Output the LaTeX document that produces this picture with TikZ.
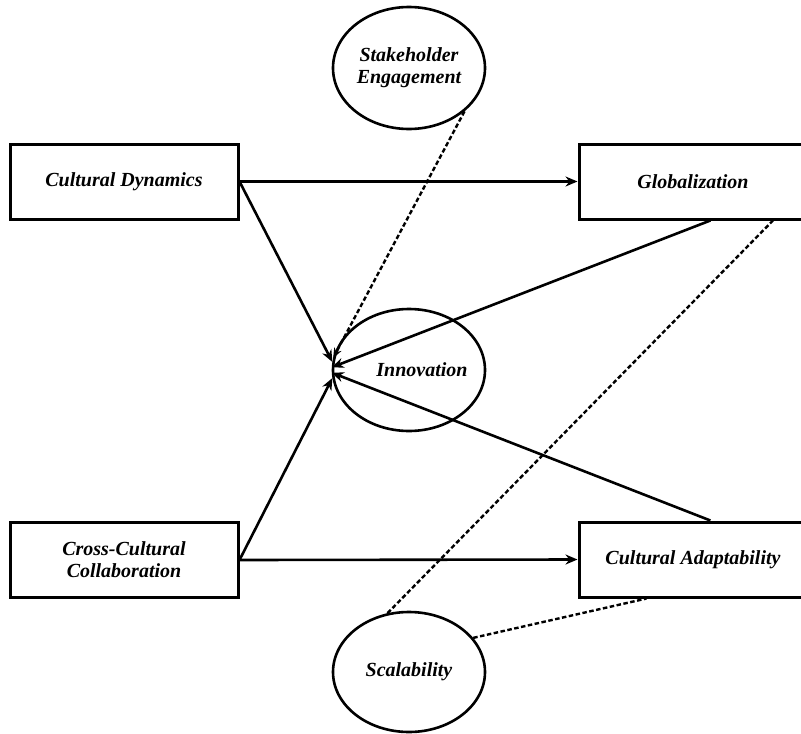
\documentclass[tikz,border=0pt]{standalone}
\usepackage{fontspec}
\setmainfont{Liberation Serif}
\usetikzlibrary{shapes.geometric,arrows.meta}

\begin{document}
\begin{tikzpicture}[x=1pt,y=1pt,
  every node/.style={font=\fontsize{20}{22}\selectfont\bfseries\itshape, inner sep=0pt},
  box/.style={draw, line width=3pt, minimum width=228pt, minimum height=75pt},
  bubble/.style={draw, ellipse, line width=2.6pt, minimum width=152pt, minimum height=122pt},
  link/.style={line width=2.6pt, -{Stealth[length=12pt,width=10pt]}},
  dashlink/.style={line width=2.4pt, dash pattern=on 4.5pt off 2.5pt}
]
\fill[white] (0,0) rectangle (801,-734);
\useasboundingbox (0,0) rectangle (801,-734);
% constructs
\node[bubble, align=center] (stake) at (409,-68) {Stakeholder\\Engagement};
\node[box] (cd) at (124,-181.5) {Cultural Dynamics};
\node[box] (glob) at (693,-181.5) {Globalization};
\node[bubble, label={[xshift=13pt]center:Innovation}] (innov) at (409,-370) {};
\node[box, align=center] (ccc) at (124,-560) {Cross-Cultural\\Collaboration};
\node[box] (adapt) at (693,-559.5) {Cultural Adaptability};
\node[bubble, minimum height=120pt] (scal) at (409,-672) {Scalability};
% paths
\draw[link] (cd.east) -- (glob.west);
\draw[link] (cd.east) -- (innov.174);
\draw[link] (ccc.east) -- (adapt.west);
\draw[link] (ccc.east) -- (innov.186);
\draw[link] (glob.-66) -- (innov.178);
\draw[link] (adapt.66) -- (innov.182);
\draw[dashlink, -{Stealth[length=10pt,width=8pt]}] (stake.-38) -- (innov.171);
% moderators
\draw[dashlink] (scal.110) -- (glob.-26);
\draw[dashlink] (scal.28) -- (adapt.-140);
\end{tikzpicture}
\end{document}
